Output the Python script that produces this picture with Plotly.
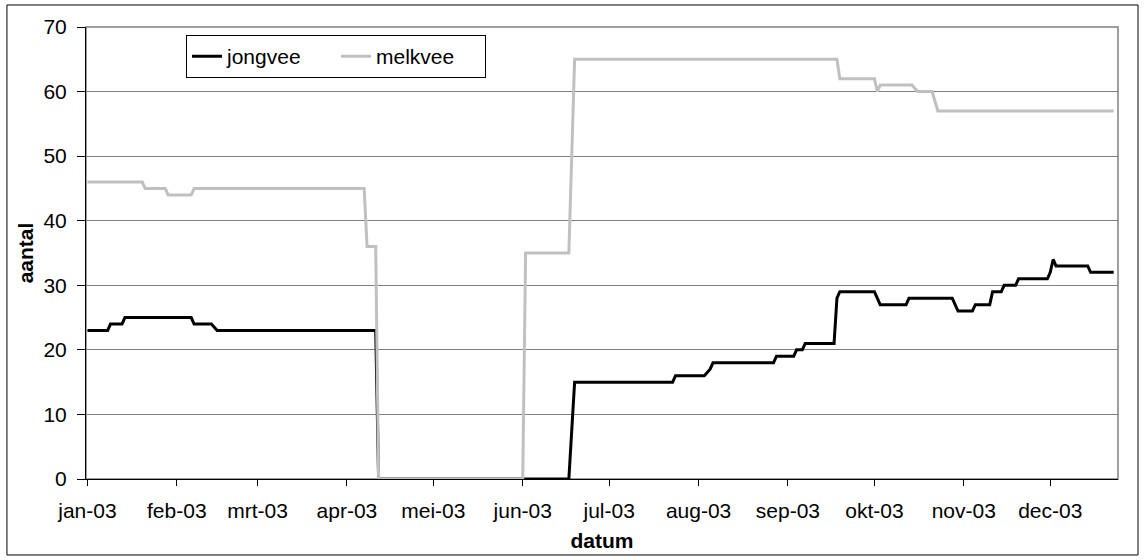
import plotly.graph_objects as go

# ---- data ----
jongvee_dates = ["2003-01-01", "2003-01-08", "2003-01-09", "2003-01-13", "2003-01-14",
                 "2003-02-06", "2003-02-07", "2003-02-13", "2003-02-15", "2003-04-11",
                 "2003-04-12", "2003-06-17", "2003-06-19", "2003-07-23", "2003-07-24",
                 "2003-08-03", "2003-08-05", "2003-08-06", "2003-08-27", "2003-08-28",
                 "2003-09-03", "2003-09-04", "2003-09-06", "2003-09-07", "2003-09-17",
                 "2003-09-18", "2003-09-19", "2003-10-01", "2003-10-03", "2003-10-12",
                 "2003-10-13", "2003-10-28", "2003-10-30", "2003-11-04", "2003-11-05",
                 "2003-11-10", "2003-11-11", "2003-11-14", "2003-11-15", "2003-11-19",
                 "2003-11-20", "2003-11-30", "2003-12-01", "2003-12-02", "2003-12-03",
                 "2003-12-14", "2003-12-15", "2003-12-23"]
jongvee_values = [23, 23, 24, 24, 25,
                  25, 24, 24, 23, 23,
                  0, 0, 15, 15, 16,
                  16, 17, 18, 18, 19,
                  19, 20, 20, 21, 21,
                  28, 29, 29, 27, 27,
                  28, 28, 26, 26, 27,
                  27, 29, 29, 30, 30,
                  31, 31, 32, 34, 33,
                  33, 32, 32]

melkvee_dates = ["2003-01-01", "2003-01-20", "2003-01-21", "2003-01-28", "2003-01-29",
                 "2003-02-06", "2003-02-07", "2003-04-07", "2003-04-08", "2003-04-11",
                 "2003-04-12", "2003-06-01", "2003-06-02", "2003-06-17", "2003-06-19",
                 "2003-09-18", "2003-09-19", "2003-10-01", "2003-10-02", "2003-10-03",
                 "2003-10-14", "2003-10-16", "2003-10-21", "2003-10-23", "2003-12-23"]
melkvee_values = [46, 46, 45, 45, 44,
                  44, 45, 45, 36, 36,
                  0, 0, 35, 35, 65,
                  65, 62, 62, 60, 61,
                  61, 60, 60, 57, 57]

month_ticks = ["2003-01-01", "2003-02-01", "2003-03-01", "2003-04-01", "2003-05-01",
               "2003-06-01", "2003-07-01", "2003-08-01", "2003-09-01", "2003-10-01",
               "2003-11-01", "2003-12-01"]
month_labels = ["jan-03", "feb-03", "mrt-03", "apr-03", "mei-03", "jun-03",
                "jul-03", "aug-03", "sep-03", "okt-03", "nov-03", "dec-03"]

FONT = "Liberation Sans, Arial, sans-serif"
FS = 21

fig = go.Figure()
fig.add_trace(go.Scatter(x=jongvee_dates, y=jongvee_values, name="jongvee",
                         mode="lines", line=dict(color="#000000", width=3)))
fig.add_trace(go.Scatter(x=melkvee_dates, y=melkvee_values, name="melkvee",
                         mode="lines", line=dict(color="#C0C0C0", width=3)))

fig.update_layout(
    width=1145, height=560,
    margin=dict(l=86, r=27, t=27, b=81),
    paper_bgcolor="white", plot_bgcolor="white",
    font=dict(family=FONT, size=FS, color="black"),
    showlegend=True,
    legend=dict(orientation="h", x=0.0969, y=0.982, xanchor="left", yanchor="top",
                bgcolor="white", bordercolor="black", borderwidth=1,
                entrywidth=104, entrywidthmode="pixels",
                font=dict(family=FONT, size=FS, color="black"),
                traceorder="normal"),
    xaxis=dict(type="date", range=["2002-12-31 12:00", "2003-12-24 12:00"],
               tickmode="array", tickvals=month_ticks, ticktext=month_labels,
               ticks="outside", ticklen=6, tickcolor="black", tickwidth=1,
               ticklabelstandoff=7,
               showline=True, linecolor="black", linewidth=1,
               showgrid=False, zeroline=False,
               title=dict(text="datum", font=dict(family=FONT, size=FS, weight="bold"), standoff=12)),
    yaxis=dict(range=[0, 70], tickmode="linear", tick0=0, dtick=10,
               ticks="outside", ticklen=8, tickcolor="black", tickwidth=1,
               ticklabelstandoff=6,
               showline=True, linecolor="black", linewidth=1,
               showgrid=True, gridcolor="#808080", gridwidth=1, zeroline=False,
               title=dict(text="aantal", font=dict(family=FONT, size=FS, weight="bold"), standoff=4)),
)

# plot-area border (gray) and outer chart border (black)
fig.add_shape(type="rect", xref="paper", yref="paper", x0=0, x1=1, y0=0, y1=1,
              line=dict(color="#808080", width=1.5), layer="below")
fig.add_shape(type="rect", xref="paper", yref="paper",
              x0=-0.0766, x1=1.0194, y0=-0.1681, y1=1.0487,
              line=dict(color="black", width=1), layer="below")

fig.write_html("out.html")
